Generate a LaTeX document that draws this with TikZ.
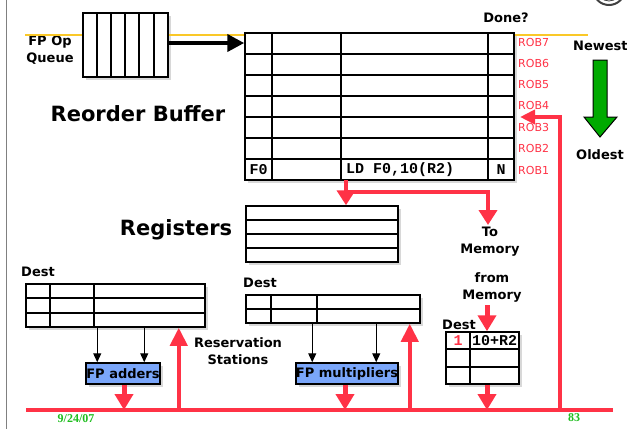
\documentclass[tikz,border=0pt]{standalone}
\usepackage{fontspec}
\setmainfont{DejaVu Sans}
\newfontfamily\monof{Liberation Mono}
\newfontfamily\serf{Liberation Serif}
\usetikzlibrary{arrows.meta,shadows,calc}
\definecolor{myred}{RGB}{255,50,70}
\definecolor{myblue}{RGB}{122,166,250}
\definecolor{mygreen}{RGB}{0,170,0}
\definecolor{myyellow}{RGB}{250,200,40}
\definecolor{dategreen}{RGB}{30,190,30}
\begin{document}
\begin{tikzpicture}[x=1pt,y=-1pt,
  box/.style={draw=black,line width=1.5pt,fill=white,inner sep=0pt,
    drop shadow={shadow xshift=3pt,shadow yshift=-3pt,opacity=0.3}},
  gridl/.style={draw=black,line width=1.5pt},
  fpbox/.style={draw=black,line width=1.5pt,fill=myblue,inner sep=0pt,
    font=\fontsize{13}{15}\selectfont\bfseries,
    drop shadow={shadow xshift=3pt,shadow yshift=-3pt,opacity=0.3}},
  lbl/.style={inner sep=0pt,font=\fontsize{13}{17}\selectfont\bfseries,align=center},
  biglbl/.style={inner sep=0pt,font=\fontsize{21}{24}\selectfont\bfseries},
  roblbl/.style={inner sep=0pt,anchor=west,text=myred,font=\fontsize{11}{13}\selectfont},
  mono/.style={inner sep=0pt,font=\fontsize{15}{17}\selectfont\monof\bfseries},
  redarrow/.style={draw=myred,line width=4pt,-{Triangle[length=15pt,width=18pt]}},
  redshort/.style={draw=myred,line width=5pt,-{Triangle[length=16pt,width=18pt]}},
  redline/.style={draw=myred,line width=4pt},
  blkarrow/.style={draw=black,line width=1.2pt,-{Triangle[length=9pt,width=8pt]}},
  yell/.style={draw=myyellow,line width=2pt},
  datel/.style={inner sep=0pt,text=dategreen,font=\fontsize{12}{14}\selectfont\serf\bfseries}
]
\useasboundingbox (0,0) rectangle (627,429);
\clip (0,0) rectangle (627,429);
\fill[white] (0,0) rectangle (627,429);

% slide border and logo
\draw[gray,line width=1pt] (6,0) -- (6,429);
\draw[black!75,line width=2pt] (609,-11) circle (16);
\draw[black!75,line width=0.8pt] (609,-11) circle (12);

% FP op queue
\node[box,minimum width=85pt,minimum height=64pt] (queue) at (125.5,45) {};
\foreach \x in {97,111,125,139,154}
  \draw[gridl] (queue.north -| \x,0) -- (queue.south -| \x,0);
\node[lbl] (fpq) at (50,50) {FP Op\\Queue};

% Reorder buffer
\node[box,minimum width=269pt,minimum height=147pt] (rob) at (379.5,106.5) {};
\foreach \y in {54,75,96,117,138,159}
  \draw[gridl] (rob.west |- 0,\y) -- (rob.east |- 0,\y);
\foreach \x in {272,341,488}
  \draw[gridl] (rob.north -| \x,0) -- (rob.south -| \x,0);
\node[mono] (f0) at (258.5,170) {F0};
\node[mono,anchor=west] (ld) at (346,170) {LD F0,10(R2)};
\node[mono] (nn) at (501,170) {N};

% yellow line and input arrow
\coordinate (yl) at (25,35);
\coordinate (yr) at (588,35);
\draw[yell] (yl) -- (yl -| queue.west);
\draw[yell] (queue.east |- yl) -- (rob.west |- yl);
\draw[yell] (rob.east |- yl) -- (yr);
\draw[draw=black,line width=4pt,-{Triangle[length=17pt,width=17pt]}]
  ([yshift=2pt]queue.east) -- ([yshift=2pt]queue.east -| rob.west);

\node[biglbl] (robl) at (138,114) {Reorder Buffer};
\node[lbl] (done) at (506,18) {Done?};
\node[roblbl] (r7) at (518,42) {ROB7};
\node[roblbl] (r6) at (518,63) {ROB6};
\node[roblbl] (r5) at (518,84) {ROB5};
\node[roblbl] (r4) at (518,105) {ROB4};
\node[roblbl] (r3) at (518,127) {ROB3};
\node[roblbl] (r2) at (518,148) {ROB2};
\node[roblbl] (r1) at (518,170) {ROB1};

% newest / oldest
\node[lbl,anchor=west] (newest) at (573,46) {Newest};
\node[lbl] (oldest) at (600,155) {Oldest};
\draw[fill=mygreen,draw=black,line width=1pt]
  (593,60) -- (607,60) -- (607,117) -- (617,117) -- (600,137) -- (584,117) -- (593,117) -- cycle;

% registers
\node[box,minimum width=152pt,minimum height=56pt] (regs) at (322,234) {};
\foreach \y in {220,234,248}
  \draw[gridl] (regs.west |- 0,\y) -- (regs.east |- 0,\y);
\node[biglbl] (regl) at (176,230) {Registers};

% memory labels
\node[lbl] (tomem) at (490,242) {To\\Memory};
\node[lbl] (frmem) at (492,287) {from\\Memory};

% reservation stations (adders)
\node[box,minimum width=179pt,minimum height=43pt] (rsadd) at (115.5,305.5) {};
\foreach \y in {298,313}
  \draw[gridl] (rsadd.west |- 0,\y) -- (rsadd.east |- 0,\y);
\foreach \x in {50,94}
  \draw[gridl] (rsadd.north -| \x,0) -- (rsadd.south -| \x,0);
\node[lbl] (dest1) at (38,272) {Dest};

% reservation stations (multipliers)
\node[box,minimum width=174pt,minimum height=28pt] (rsmul) at (333,309) {};
\draw[gridl] (rsmul.west) -- (rsmul.east);
\foreach \x in {271,317}
  \draw[gridl] (rsmul.north -| \x,0) -- (rsmul.south -| \x,0);
\node[lbl] (dest2) at (260,283) {Dest};
\node[lbl] (rsl) at (238,351) {Reservation\\Stations};

% load buffer
\node[box,minimum width=73pt,minimum height=52pt] (ldbuf) at (482.5,358) {};
\foreach \y in {349,367}
  \draw[gridl] (ldbuf.west |- 0,\y) -- (ldbuf.east |- 0,\y);
\draw[gridl] (ldbuf.north -| 470,0) -- (ldbuf.south -| 470,0);
\node[mono,text=myred] (one) at (458,341) {1};
\node[mono] (addr) at (494.5,341) {10+R2};
\node[lbl] (dest3) at (459,325) {Dest};

% functional units
\node[fpbox,minimum width=74pt,minimum height=21pt] (fpadd) at (123,373.5) {FP adders};
\node[fpbox,minimum width=100pt,minimum height=21pt] (fpmul) at (347,373.5) {FP multipliers};

% black arrows RS -> units
\draw[blkarrow] ([xshift=72pt]rsadd.south west) -- ([xshift=72pt]rsadd.south west |- fpadd.north);
\draw[blkarrow] ([xshift=119pt]rsadd.south west) -- ([xshift=119pt]rsadd.south west |- fpadd.north);
\draw[blkarrow] ([xshift=67pt]rsmul.south west) -- ([xshift=67pt]rsmul.south west |- fpmul.north);
\draw[blkarrow] ([xshift=131pt]rsmul.south west) -- ([xshift=131pt]rsmul.south west |- fpmul.north);

% common data bus
\coordinate (busL) at (26,410);
\coordinate (busR) at (613,410);
\draw[redline] (busL) -- (busR);

% unit outputs to bus
\draw[redshort] ([xshift=1pt]fpadd.south) -- ([xshift=1pt]fpadd.south |- busL);
\draw[redshort] ([xshift=-2pt]fpmul.south) -- ([xshift=-2pt]fpmul.south |- busL);
\draw[redshort] ([xshift=4.5pt]ldbuf.south) -- ([xshift=4.5pt]ldbuf.south |- busL);

% bus to RS
\draw[redarrow,-{Triangle[length=18pt,width=17pt]}] ([xshift=-27pt]rsadd.south east |- busL) -- ([xshift=-27pt]rsadd.south east);
\draw[redarrow,-{Triangle[length=18pt,width=17pt]}] ([xshift=-11pt]rsmul.south east |- busL) -- ([xshift=-11pt]rsmul.south east);

% bus to ROB
\coordinate (busrob) at (560,410);
\coordinate (rob4in) at (520,117);
\draw[redarrow,-{Triangle[length=15pt,width=14pt]}] (busrob) |- (rob4in);

% ROB to registers and memory
\coordinate (robout) at (346,180);
\coordinate (branch) at (346,192);
\coordinate (tomemtip) at (488,225);
\draw[redarrow] (robout) -- (robout |- regs.north);
\draw[redarrow] (branch) -| (tomemtip);

% from memory to load buffer
\draw[redshort] ([xshift=4.5pt,yshift=26pt]ldbuf.north) -- ([xshift=4.5pt]ldbuf.north);

% footer
\node[datel] (date) at (76,419) {9/24/07};
\node[datel] (page) at (574,418) {83};
\end{tikzpicture}
\end{document}
